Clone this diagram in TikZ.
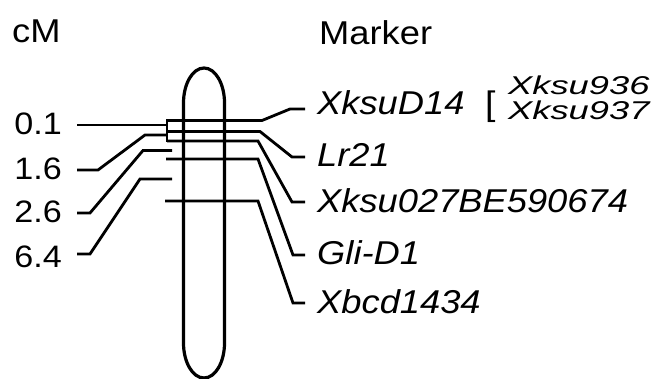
\documentclass[tikz,border=0pt]{standalone}
\usepackage{fontspec}
\setmainfont{Liberation Sans}[FakeStretch=1.1]
\begin{document}
\begin{tikzpicture}[x=1pt,y=-1pt,
  lbl/.style={inner sep=0pt,font=\fontsize{31}{31}\selectfont},
  mk/.style={inner sep=0pt,font=\fontsize{33}{33}\selectfont\itshape},
  conn/.style={line width=2.8pt,line join=miter},
  chrom/.style={line width=3.2pt}]
\useasboundingbox (0,0) rectangle (658,379);
% headers
\node[lbl,anchor=base west,font=\fontsize{33}{33}\selectfont] (cm) at (12,43) {cM};
\node[lbl,anchor=base west,font=\fontsize{33}{33}\selectfont] (mh) at (319,45) {Marker};
% cM values
\node[lbl,anchor=base east] (d1) at (62,135) {0.1};
\node[lbl,anchor=base east] (d2) at (62,180) {1.6};
\node[lbl,anchor=base east] (d3) at (62,223) {2.6};
\node[lbl,anchor=base east] (d4) at (62,267) {6.4};
% markers
\node[mk,anchor=base west] (m1) at (317,115) {XksuD14};
\node[mk,anchor=base west] (m2) at (317,167) {Lr21};
\node[mk,anchor=base west] (m3) at (317,213) {Xksu027BE590674};
\node[mk,anchor=base west] (m4) at (317,265) {Gli-D1};
\node[mk,anchor=base west] (m5) at (317,313) {Xbcd1434};
\node[lbl,anchor=base west,font=\fontsize{34}{34}\selectfont] (br) at (485,116) {[};
\node[mk,anchor=base west] (m6) at (508,95) {\scalebox{1}[0.78]{Xksu936}};
\node[mk,anchor=base west] (m7) at (508,120) {\scalebox{1}[0.78]{Xksu937}};
% chromosome
\draw[chrom] (183.5,103) -- (183.5,343) arc[start angle=180,end angle=360,x radius=20.5,y radius=-35]
  -- (224.5,103) arc[start angle=0,end angle=180,x radius=20.5,y radius=-35] -- cycle;
% bracket on the map
\coordinate (b1) at (167,119.5);
\coordinate (b2) at (167,142.5);
\draw[conn] (b1) -- (b2);
% marker lines
\draw[conn] (167,120.5) -- (262,120.5) -- (290,109) -- (305,109);
\draw[conn] (167,131.5) -- (260,131.5) -- (292,157) -- (305,157);
\draw[conn] (167,141) -- (258,141) -- (292,202) -- (305,202);
\draw[conn] (166,159) -- (258,159) -- (293,255) -- (305,255);
\draw[conn] (165,201) -- (258,201) -- (293,303) -- (305,303);
% interval lines
\draw[conn] (77,125) -- (167,125);
\draw[conn] (77,170) -- (98,170) -- (145,135) -- (167,135);
\draw[conn] (77,213) -- (90,213) -- (143,150.5) -- (172,150.5);
\draw[conn] (77,254) -- (90,254) -- (140,179) -- (172,179);
\end{tikzpicture}
\end{document}
